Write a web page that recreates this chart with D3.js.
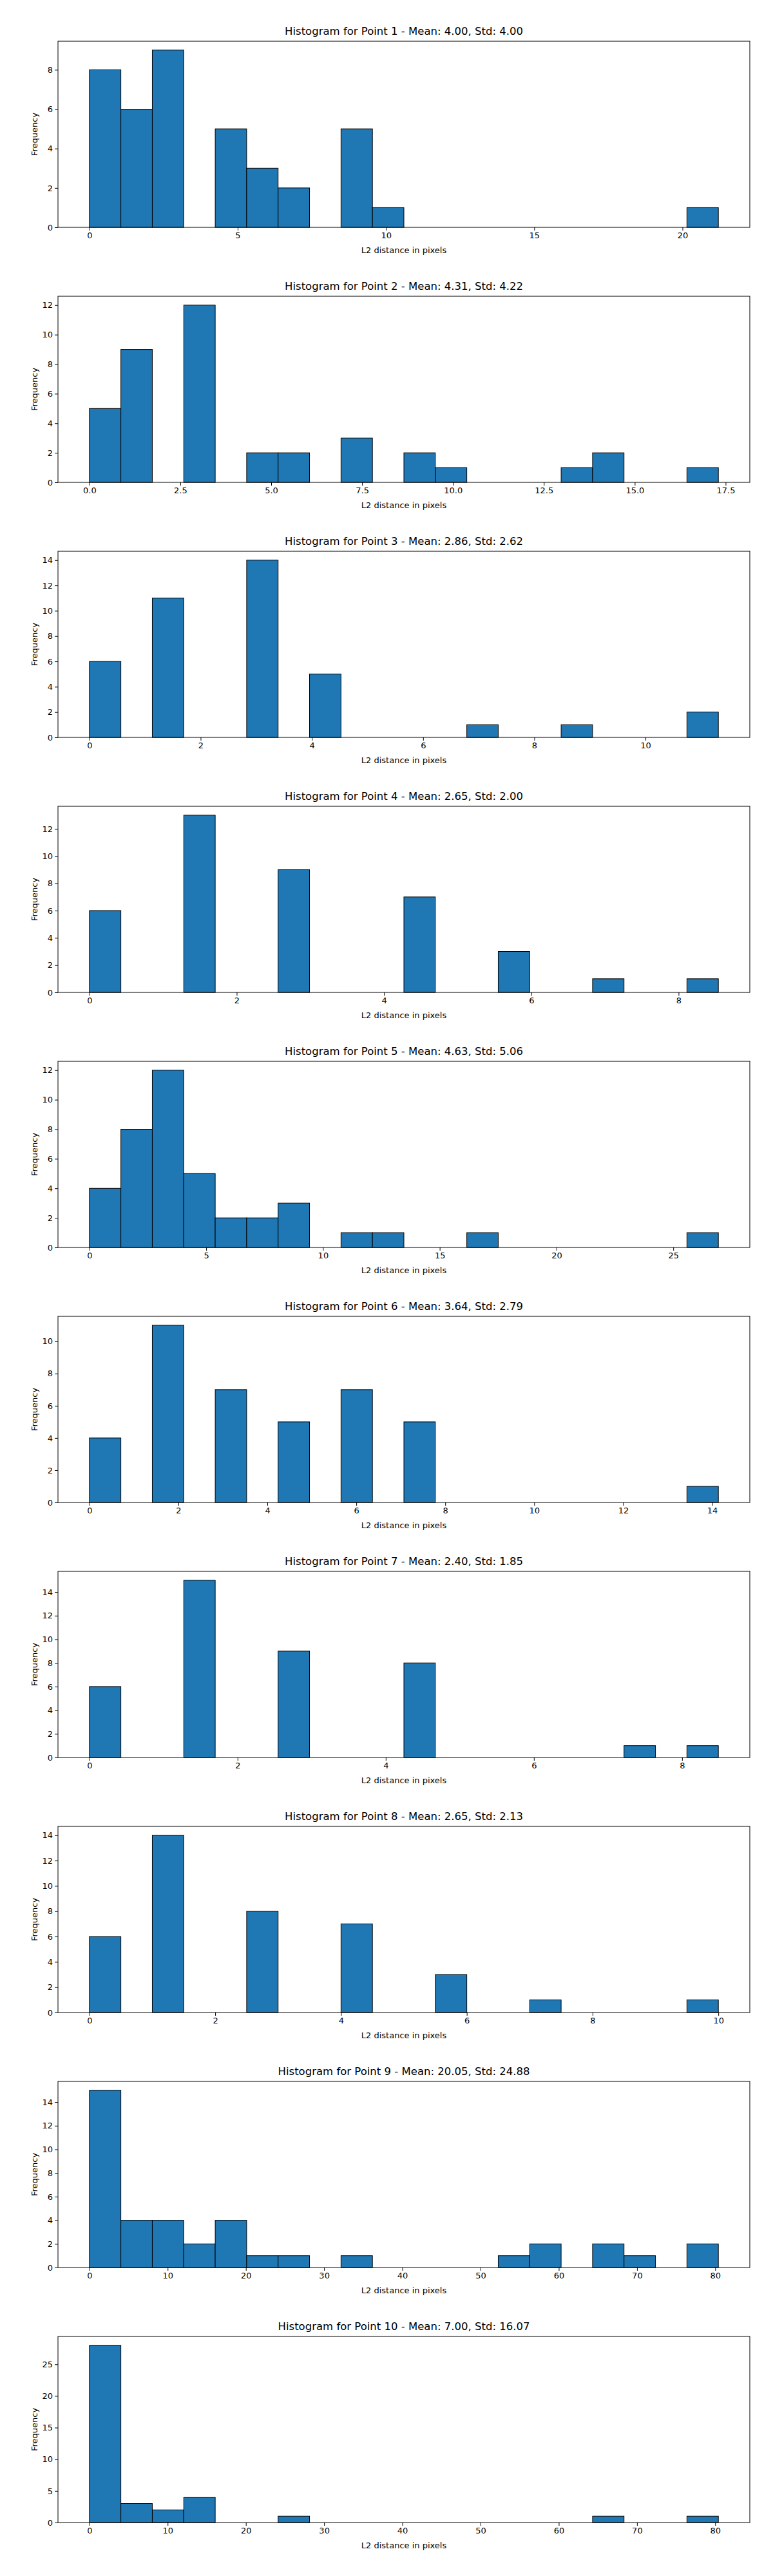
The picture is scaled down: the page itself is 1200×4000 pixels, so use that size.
<!DOCTYPE html>
<html>
<head>
<meta charset="utf-8">
<script src="https://cdn.jsdelivr.net/npm/d3@7"></script>
<style>
body { margin: 0; background: #fff; }
text { font-family: "DejaVu Sans", sans-serif; }
</style>
</head>
<body>
<svg id="chart" width="1200" height="4000"></svg>
<script>
// each histogram: 20 equal bins from 0 to maxVal
var pointNames = ["Point 1", "Point 2", "Point 3", "Point 4", "Point 5",
                  "Point 6", "Point 7", "Point 8", "Point 9", "Point 10"];
var means = ["4.00", "4.31", "2.86", "2.65", "4.63", "3.64", "2.40", "2.65", "20.05", "7.00"];
var stds  = ["4.00", "4.22", "2.62", "2.00", "5.06", "2.79", "1.85", "2.13", "24.88", "16.07"];
var maxVals = [21.21, 17.3, 11.31, 8.54, 26.93, 14.14, 8.49, 10.0, 80.4, 80.4];
var counts = [
  [8,6,9,0,5,3,2,0,5,1,0,0,0,0,0,0,0,0,0,1],
  [5,9,0,12,0,2,2,0,3,0,2,1,0,0,0,1,2,0,0,1],
  [6,0,11,0,0,14,0,5,0,0,0,0,1,0,0,1,0,0,0,2],
  [6,0,0,13,0,0,9,0,0,0,7,0,0,3,0,0,1,0,0,1],
  [4,8,12,5,2,2,3,0,1,1,0,0,1,0,0,0,0,0,0,1],
  [4,0,11,0,7,0,5,0,7,0,5,0,0,0,0,0,0,0,0,1],
  [6,0,0,15,0,0,9,0,0,0,8,0,0,0,0,0,0,1,0,1],
  [6,0,14,0,0,8,0,0,7,0,0,3,0,0,1,0,0,0,0,1],
  [15,4,4,2,4,1,1,0,1,0,0,0,0,1,2,0,2,1,0,2],
  [28,3,2,4,0,0,1,0,0,0,0,0,0,0,0,0,1,0,0,1]
];
var xTicks = [
  [0,5,10,15,20],
  [0,2.5,5,7.5,10,12.5,15,17.5],
  [0,2,4,6,8,10],
  [0,2,4,6,8],
  [0,5,10,15,20,25],
  [0,2,4,6,8,10,12,14],
  [0,2,4,6,8],
  [0,2,4,6,8,10],
  [0,10,20,30,40,50,60,70,80],
  [0,10,20,30,40,50,60,70,80]
];
var xTickFormats = ["d", ".1f", "d", "d", "d", "d", "d", "d", "d", "d"];

var svg = d3.select("#chart");
var left = 90, right = 1164, top0 = 64, pitch = 396, h = 289;
var nBins = 20;

pointNames.forEach(function(name, i) {
  var top = top0 + i * pitch;
  var maxV = maxVals[i];
  var pad = maxV * 0.05;
  var x = d3.scaleLinear().domain([-pad, maxV + pad]).range([left, right]);
  var ymax = d3.max(counts[i]) * 1.05;
  var y = d3.scaleLinear().domain([0, ymax]).range([top + h, top]);
  var w = maxV / nBins;
  var g = svg.append("g");

  var bins = counts[i].map(function(c, j) { return {x0: j * w, x1: (j + 1) * w, c: c}; });
  g.selectAll("rect").data(bins).enter().append("rect")
    .attr("x", function(d) { return x(d.x0); })
    .attr("width", function(d) { return x(d.x1) - x(d.x0); })
    .attr("y", function(d) { return y(d.c); })
    .attr("height", function(d) { return y(0) - y(d.c); })
    .attr("fill", "#1f77b4")
    .attr("stroke", "#000")
    .attr("stroke-width", 1);

  g.append("rect").attr("x", left).attr("y", top).attr("width", right - left).attr("height", h)
    .attr("fill", "none").attr("stroke", "#000").attr("stroke-width", 1);

  var xa = g.append("g").attr("transform", "translate(0," + (top + h) + ")")
    .call(d3.axisBottom(x).tickValues(xTicks[i]).tickFormat(d3.format(xTickFormats[i])).tickSizeOuter(0).tickSize(5));
  var ya = g.append("g").attr("transform", "translate(" + left + ",0)")
    .call(d3.axisLeft(y).ticks(5).tickFormat(d3.format("d")).tickSizeOuter(0).tickSize(5));
  [xa, ya].forEach(function(a) {
    a.select(".domain").remove();
    a.selectAll("text").attr("font-size", 13).attr("fill", "#000").attr("font-family", "DejaVu Sans");
  });

  g.append("text").attr("x", (left + right) / 2).attr("y", top - 10)
    .attr("text-anchor", "middle").attr("font-size", 16.5)
    .text("Histogram for " + name + " - Mean: " + means[i] + ", Std: " + stds[i]);
  g.append("text").attr("x", (left + right) / 2).attr("y", top + h + 40)
    .attr("text-anchor", "middle").attr("font-size", 13).text("L2 distance in pixels");
  g.append("text").attr("transform", "translate(" + 58 + "," + (top + h / 2) + ") rotate(-90)")
    .attr("text-anchor", "middle").attr("font-size", 13).text("Frequency");
});
</script>
</body>
</html>
